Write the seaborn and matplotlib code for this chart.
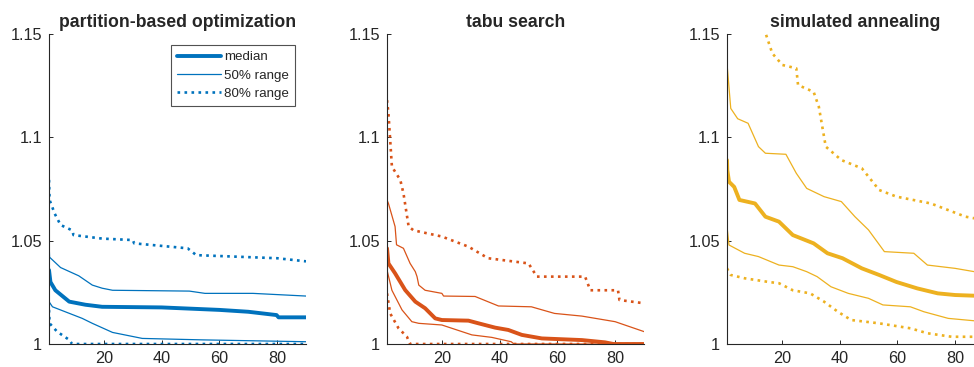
import matplotlib
matplotlib.use("Agg")
import matplotlib.pyplot as plt
import seaborn as sns
import pandas as pd

titles = ["partition-based optimization", "tabu search", "simulated annealing"]
colors = ["#0072BD", "#D95319", "#EDB120"]

# ---- partition-based optimization ----
p_med_x = [1, 1.5, 3.2, 8, 13.6, 19.4, 40, 60, 70, 79.8, 80.5, 90]
p_med_y = [1.0358, 1.030, 1.026, 1.0205, 1.019, 1.018, 1.0177, 1.0165, 1.0156, 1.014, 1.0129, 1.0129]
p_q50hi_x = [1, 1.2, 5, 11.3, 16, 19.4, 23, 49.6, 55, 71.6, 90]
p_q50hi_y = [1.050, 1.042, 1.037, 1.033, 1.0285, 1.027, 1.026, 1.0256, 1.0245, 1.0245, 1.0232]
p_q50lo_x = [1, 2.2, 12.5, 16, 23, 33.3, 54, 90]
p_q50lo_y = [1.0205, 1.018, 1.0124, 1.010, 1.0056, 1.0027, 1.002, 1.0011]
p_q80hi_x = [1, 1.2, 3, 5, 9, 9.5, 19.4, 30, 30.5, 49, 52, 80, 90]
p_q80hi_y = [1.0794, 1.0697, 1.063, 1.0576, 1.055, 1.0527, 1.051, 1.0503, 1.0487, 1.0463, 1.043, 1.0415, 1.040]
p_q80lo_x = [1, 1.2, 3.8, 8, 9, 90]
p_q80lo_y = [1.0165, 1.010, 1.006, 1.002, 1.000, 1.000]

# ---- tabu search ----
t_med_x = [1, 1.5, 3.8, 7.3, 10.8, 14.2, 17.7, 20, 29.2, 32.7, 38.5, 43, 47.7, 54.6, 68.5, 76.5, 79.4, 90]
t_med_y = [1.0463, 1.039, 1.0342, 1.0261, 1.0205, 1.0173, 1.0124, 1.0116, 1.0113, 1.010, 1.0079, 1.0068, 1.0044, 1.0027, 1.0019, 1.0008, 1.000, 1.000]
t_q50hi_x = [1, 1.5, 3.8, 4.3, 6.7, 9, 10.8, 11.4, 12, 14.2, 20, 20.6, 31.5, 39.6, 51, 59, 68.5, 80, 90]
t_q50hi_y = [1.0697, 1.068, 1.0568, 1.048, 1.0463, 1.039, 1.035, 1.0326, 1.0285, 1.026, 1.0245, 1.0232, 1.023, 1.0184, 1.018, 1.0148, 1.0135, 1.0108, 1.006]
t_q50lo_x = [1, 2.7, 6.2, 9.6, 12, 20, 30.4, 37.3, 44, 45, 90]
t_q50lo_y = [1.0358, 1.026, 1.0165, 1.0108, 1.010, 1.0092, 1.0044, 1.0032, 1.0011, 1.000, 1.000]
t_q80hi_x = [1, 1.5, 2.1, 2.7, 5.6, 6.7, 8.5, 10.2, 20, 29.2, 36, 50, 52.9, 69.6, 71.4, 81, 81.5, 90]
t_q80hi_y = [1.118, 1.1116, 1.0987, 1.0858, 1.0794, 1.0729, 1.0568, 1.055, 1.052, 1.0471, 1.0415, 1.039, 1.0326, 1.0326, 1.026, 1.026, 1.0213, 1.0197]
t_q80lo_x = [1, 2.1, 5, 7.9, 9, 90]
t_q80lo_y = [1.0245, 1.0148, 1.0076, 1.0035, 1.000, 1.000]

# ---- simulated annealing ----
s_med_x = [1, 1.1, 1.7, 3.5, 5.3, 10.7, 14.3, 19, 23.8, 31, 35.8, 41, 47.7, 53.7, 59.7, 66.9, 74, 80, 90]
s_med_y = [1.089, 1.0842, 1.0785, 1.076, 1.0697, 1.068, 1.0616, 1.0592, 1.0527, 1.0487, 1.0439, 1.0415, 1.0366, 1.0334, 1.030, 1.0269, 1.0245, 1.0237, 1.0232]
s_q50hi_x = [1, 1.1, 2.3, 4.7, 8.3, 11.9, 14.3, 21.4, 25, 28.6, 34.6, 40.6, 45.3, 50, 55.5, 65.7, 70.4, 80, 90]
s_q50hi_y = [1.1495, 1.134, 1.114, 1.109, 1.1068, 1.0955, 1.0923, 1.0918, 1.0826, 1.0753, 1.0713, 1.0689, 1.0616, 1.0552, 1.0447, 1.0439, 1.0382, 1.0366, 1.0342]
s_q50lo_x = [1, 1.7, 7.1, 11.9, 19, 23.8, 28.6, 32.2, 37, 43, 50, 55, 64.5, 69.2, 77.6, 90]
s_q50lo_y = [1.0568, 1.0479, 1.0439, 1.0423, 1.0382, 1.0374, 1.035, 1.0326, 1.0277, 1.0245, 1.0221, 1.0189, 1.018, 1.0156, 1.0124, 1.0108]
s_q80hi_x = [13, 16.7, 20.2, 25, 25.6, 31, 32.8, 35.2, 40.6, 47.7, 53.7, 59.7, 71.6, 83.6, 90]
s_q80hi_y = [1.156, 1.1406, 1.135, 1.1334, 1.1253, 1.122, 1.1148, 1.0955, 1.089, 1.085, 1.0745, 1.0713, 1.068, 1.0616, 1.060]
s_q80lo_x = [1, 2.3, 7.1, 15.5, 19, 23.8, 29.8, 34.6, 39.4, 44, 53.7, 64.5, 70.4, 78.8, 90]
s_q80lo_y = [1.0366, 1.0334, 1.0318, 1.030, 1.0294, 1.026, 1.0245, 1.0205, 1.0156, 1.0116, 1.010, 1.0076, 1.0052, 1.0035, 1.0035]

panels = [
    [(p_med_x, p_med_y), (p_q50hi_x, p_q50hi_y), (p_q50lo_x, p_q50lo_y), (p_q80hi_x, p_q80hi_y), (p_q80lo_x, p_q80lo_y)],
    [(t_med_x, t_med_y), (t_q50hi_x, t_q50hi_y), (t_q50lo_x, t_q50lo_y), (t_q80hi_x, t_q80hi_y), (t_q80lo_x, t_q80lo_y)],
    [(s_med_x, s_med_y), (s_q50hi_x, s_q50hi_y), (s_q50lo_x, s_q50lo_y), (s_q80hi_x, s_q80hi_y), (s_q80lo_x, s_q80lo_y)],
]

xticks = [20, 40, 60, 80]
yticks = [1.0, 1.05, 1.1, 1.15]
yticklabels = ["1", "1.05", "1.1", "1.15"]

sns.set_style("ticks")
plt.rcParams["font.family"] = ["Liberation Sans", "DejaVu Sans"]

W, H = 974, 367
fig = plt.figure(figsize=(W / 100, H / 100), dpi=100)
lefts = [49, 387, 727]
ax_w = 257
ax_bottom = 344
ax_top = 34

styles = [
    dict(lw=2.8, ls="-", label="median"),
    dict(lw=0.9, ls="-", label="50% range"),
    dict(lw=0.9, ls="-", label=None),
    dict(lw=1.9, ls=":", label="80% range"),
    dict(lw=1.9, ls=":", label=None),
]

for i, (title, col, series) in enumerate(zip(titles, colors, panels)):
    ax = fig.add_axes([lefts[i] / W, 1 - ax_bottom / H, ax_w / W, (ax_bottom - ax_top) / H])
    for (xs, ys), st in zip(series, styles):
        df = pd.DataFrame({"x": xs, "y": ys})
        sns.lineplot(data=df, x="x", y="y", ax=ax, color=col, linewidth=st["lw"],
                     linestyle=st["ls"], label=(st["label"] if i == 0 else None),
                     legend=False, errorbar=None, sort=False)
    ax.set_xlim(1, 90)
    ax.set_ylim(1.0, 1.15)
    ax.set_xticks(xticks)
    ax.set_yticks(yticks)
    ax.set_yticklabels(yticklabels)
    ax.set_xlabel("")
    ax.set_ylabel("")
    ax.set_title(title, fontsize=12.7, fontweight="bold", pad=5)
    for s in ["top", "right"]:
        ax.spines[s].set_visible(False)
    for s in ["left", "bottom"]:
        ax.spines[s].set_color("#262626")
        ax.spines[s].set_linewidth(0.8)
    ax.tick_params(direction="in", length=3, width=0.7, colors="#262626",
                   labelsize=11.7, labelcolor="#262626")
    ax.tick_params(axis="x", pad=5)
    ax.tick_params(axis="y", pad=5)
    if i == 0:
        leg = ax.legend(loc="upper right", bbox_to_anchor=(0.957, 0.965), fontsize=9.6,
                        handlelength=3.3, frameon=True, fancybox=False,
                        edgecolor="#262626", borderpad=0.45, labelspacing=0.45,
                        handletextpad=0.2, borderaxespad=0)
        leg.get_frame().set_linewidth(0.8)

fig.savefig("out.png", dpi=100)
